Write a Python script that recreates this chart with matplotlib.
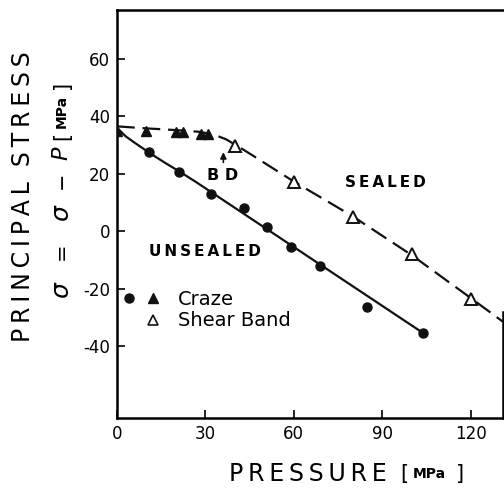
import matplotlib
matplotlib.use("Agg")
import matplotlib.pyplot as plt

plt.rcParams["font.family"] = ["DejaVu Sans"]
plt.rcParams["axes.unicode_minus"] = False

# measured points (MPa)
unsealed_x = [11, 21, 32, 43, 51, 59, 69, 85, 104]
unsealed_y = [27.5, 20.5, 13, 8, 1.5, -5.5, -12, -26.5, -35.5]
craze_x = [0, 10, 20, 22.5, 28.5, 31]
craze_y = [35, 35, 34.5, 34.5, 34, 34]
shear_x = [40, 60, 80, 100, 120]
shear_y = [29.5, 17, 5, -8, -23.5]

# hand-drawn fit curves
fit_unsealed_x = [0, 3, 6, 11, 16, 21.5, 27, 32, 104]
fit_unsealed_y = [36, 33, 30.8, 27.3, 24, 20.6, 17, 13.6, -35.5]
fit_sealed_x = [0, 10, 20, 28, 33, 37, 41, 46, 52, 60, 80, 100, 120, 131]
fit_sealed_y = [36.5, 35.8, 35.2, 34.6, 33.6, 32, 29.6, 26.4, 22.5, 17.3, 5.2, -8.3, -23.2, -31.5]

xticks = [0, 30, 60, 90, 120]
yticks = [-40, -20, 0, 20, 40, 60]

W, H = 504, 494
fig = plt.figure(figsize=(W / 100, H / 100), dpi=100)
ax = fig.add_axes([117 / W, 1 - 418 / H, (503 - 117) / W, (418 - 10) / H])

ax.plot(fit_unsealed_x, fit_unsealed_y, color="#111", lw=1.6, solid_capstyle="round")
ax.plot(fit_sealed_x, fit_sealed_y, color="#111", lw=1.6, dashes=(8, 3.5))
ax.plot(unsealed_x, unsealed_y, "o", color="#111", ms=6.5, zorder=4)
ax.plot(craze_x, craze_y, "^", color="#111", ms=7.5, zorder=4)
ax.plot(shear_x, shear_y, "^", mfc="white", mec="#111", mew=1.4, ms=8, zorder=4)

ax.set_xlim(0, 131)
ax.set_ylim(-65, 77)
ax.set_xticks(xticks)
ax.set_yticks(yticks)
ax.tick_params(direction="in", length=6, width=1.2, labelsize=12, pad=5)
for s in ax.spines.values():
    s.set_linewidth(1.8)
ax.spines["right"].set_bounds(-65, -28)

hs = "\u200a"
ts = "\u2009"
ax.text(29.7, -7, ts.join("UNSEALED"), fontsize=11, fontweight="bold", ha="center", va="center")
ax.text(91, 17, ts.join("SEALED"), fontsize=11, fontweight="bold", ha="center", va="center")
ax.text(35.8, 19.5, "B D", fontsize=11.5, fontweight="bold", ha="center", va="center")
ax.annotate("", xy=(36.1, 28.5), xytext=(36.1, 23),
            arrowprops=dict(arrowstyle="-|>", color="#111", lw=1.2, mutation_scale=9))

# legend drawn by hand
ax.plot([0.03], [0.293], "o", color="#111", ms=6.5, transform=ax.transAxes, clip_on=False)
ax.plot([0.092], [0.293], "^", color="#111", ms=7.5, transform=ax.transAxes)
ax.plot([0.092], [0.241], "^", mfc="white", mec="#111", mew=1.2, ms=7.5, transform=ax.transAxes)
ax.text(0.158, 0.29, "Craze", fontsize=14, transform=ax.transAxes, va="center")
ax.text(0.158, 0.238, "Shear Band", fontsize=14, transform=ax.transAxes, va="center")

# axis titles
def px(x, y):
    return x / W, 1 - y / H

fig.text(*px(23, 197), ts.join("PRINCIPAL") + "  " + ts.join("STRESS"), rotation=90,
         fontsize=17, ha="center", va="center")
parts = [(290, r"$\sigma$", 18, "normal"), (251, "=", 15, "normal"), (213, r"$\sigma$", 18, "normal"),
         (180, "\u2212", 15, "normal"), (153, r"$P$", 16, "normal"), (136, "[", 15, "normal"),
         (111, "MPa", 10, "bold"), (85, "]", 15, "normal")]
for yy, t, fs, fw in parts:
    fig.text(*px(62, yy), t, rotation=90, fontsize=fs, fontweight=fw, ha="center", va="center")

fig.text(*px(308, 474), ts.join("PRESSURE"), fontsize=17, ha="center", va="center")
fig.text(*px(404, 474), "[", fontsize=15, ha="center", va="center")
fig.text(*px(429, 474), "MPa", fontsize=10, fontweight="bold", ha="center", va="center")
fig.text(*px(460, 474), "]", fontsize=15, ha="center", va="center")

fig.savefig("out.png", dpi=100)
